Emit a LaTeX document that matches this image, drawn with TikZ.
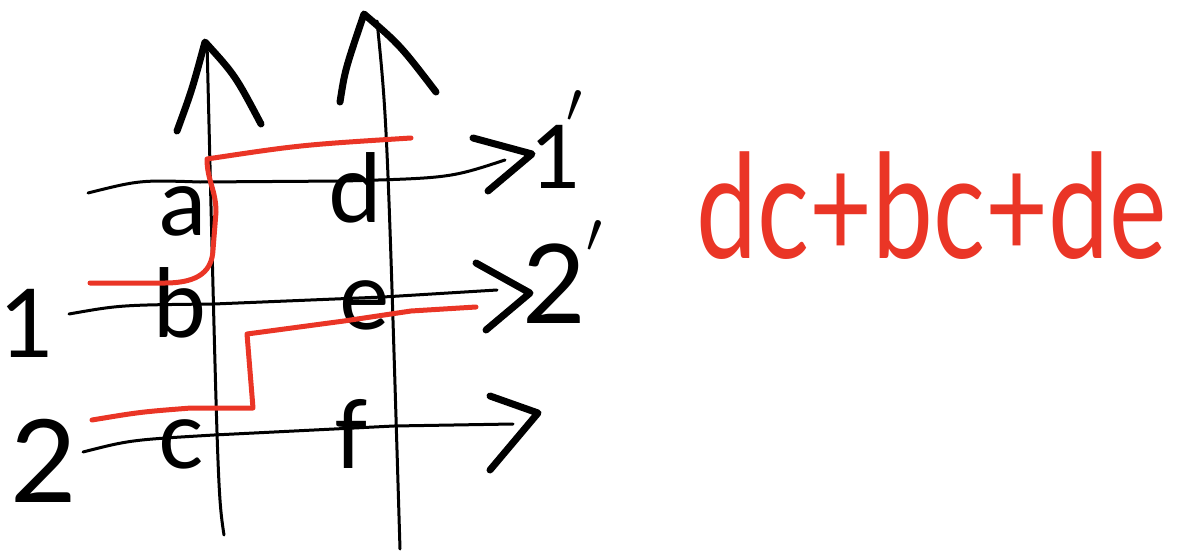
\documentclass[tikz,border=0pt]{standalone}
\usepackage{fontspec}
\setmainfont{Lato}
\usetikzlibrary{arrows.meta}
\definecolor{pen}{HTML}{EA3526}
\newcommand{\tick}[2]{\kern#1\raisebox{#2}{\scalebox{2.3}{$\prime$}}}

\begin{document}
\begin{tikzpicture}[x=1pt,y=-1pt]
\tikzstyle{every node}=[inner sep=0pt, anchor=base, font=\fontsize{95}{95}\selectfont];
\tikzstyle{wire}=[line width=3pt, line cap=round, line join=round];
\tikzstyle{head}=[line width=7pt, line cap=round, line join=round];
\tikzstyle{route}=[pen, line width=5pt, line cap=round, line join=round];

\useasboundingbox (0,0) rectangle (1186,554);

% vertical lines
\draw[wire] (224,535) .. controls (218,495) .. (207,42);
\draw[head] (177,131) .. controls (192,90) .. (205,42) .. controls (235,75) .. (261,124);
\draw[wire] (400,549) .. controls (387,120) .. (377,21);
\draw[head] (340,102) .. controls (345,70) .. (364,14) .. controls (400,45) .. (436,92);

% horizontal lines
\draw[wire] (88,193) .. controls (140,180) .. (200,182) -- (344,181) .. controls (450,178) .. (505,160);
\draw[head] (473,138) -- (532,154) -- (488,191);
\draw[wire] (69,314) .. controls (120,305) .. (214,304) -- (383,297) -- (497,290);
\draw[head] (476,263) -- (530,293) -- (486,330);
\draw[wire] (83,452) .. controls (130,440) .. (214,435) -- (394,426) -- (513,424);
\draw[head] (490,396) -- (538,413) -- (490,470);

% labels
\node (one) at (27,357) {1};
\node[font=\fontsize{115}{115}\selectfont] (two) at (44,502) {2};
\node[anchor=base west, font=\fontsize{88}{88}\selectfont] (oneout) at (530,188) {1\tick{-15pt}{66pt}};
\node[anchor=base west, font=\fontsize{110}{110}\selectfont] (twoout) at (522,323) {2\tick{0pt}{71pt}};
\node (a) at (183,235) {a};
\node (d) at (355,222) {d};
\node (b) at (180,337) {b};
\node (e) at (365,329) {e};
\node (c) at (181,468) {c};
\node (f) at (351,468) {f};

% red paths
\draw[route] (90,283) -- (165,283) .. controls (200,283) and (212,270) .. (213,250) -- (216,212) .. controls (216,190) and (207,180) .. (207,159) .. controls (300,145) .. (411,138);
\draw[route] (92,420) .. controls (140,412) .. (191,408) -- (253,408) -- (247,334) -- (344,321) -- (411,311) -- (476,307);

\node[pen] (sum) at (932,258) {\fontsize{145}{145}\selectfont\scalebox{0.75}[1]{dc+bc+de}};

\end{tikzpicture}
\end{document}
